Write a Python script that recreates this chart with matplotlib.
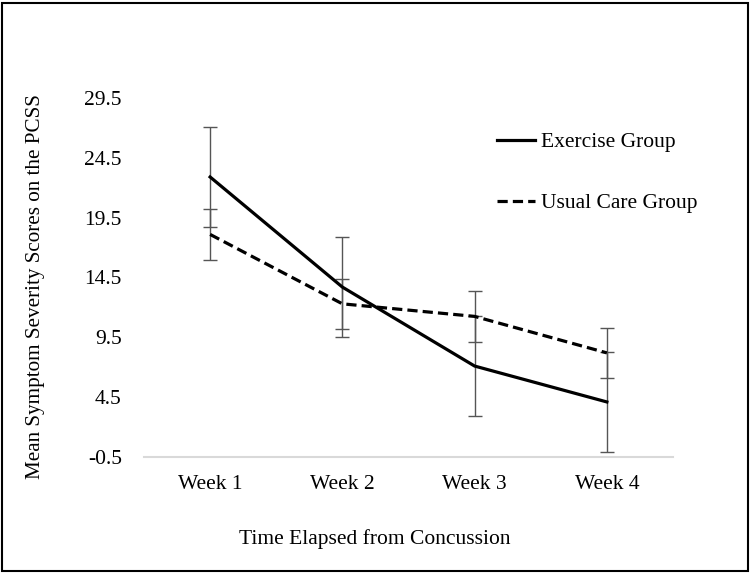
import numpy as np
import matplotlib
matplotlib.use("Agg")
import matplotlib.pyplot as plt
from matplotlib.patches import Rectangle

weeks = ["Week 1", "Week 2", "Week 3", "Week 4"]
exercise = [22.9, 13.7, 7.1, 4.1]
exercise_err = [4.2, 4.15, 4.2, 4.15]
usual = [18.1, 12.3, 11.25, 8.2]
usual_err = [2.1, 2.1, 2.1, 2.1]
yticks = [-0.5, 4.5, 9.5, 14.5, 19.5, 24.5, 29.5]

plt.rcParams['font.family'] = ['Liberation Serif', 'DejaVu Serif']
fs = 15.5

W, H = 751, 574
fig = plt.figure(figsize=(W / 100, H / 100), dpi=100)
ax = fig.add_axes([144 / W, (H - 457) / H, 529 / W, (457 - 98) / H])

x = np.arange(len(weeks))
ecol = "#555555"
ax.errorbar(x, exercise, yerr=exercise_err, fmt="none", ecolor=ecol,
            elinewidth=1, capsize=5, capthick=1, zorder=2)
ax.errorbar(x, usual, yerr=usual_err, fmt="none", ecolor=ecol,
            elinewidth=1, capsize=5, capthick=1, zorder=2)
ax.plot(x, exercise, color="black", lw=2.3, label="Exercise Group", zorder=3)
ax.plot(x, usual, color="black", lw=2.3, linestyle=(0, (3.2, 1.6)),
        label="Usual Care Group", zorder=3)

ax.set_xlim(-0.5, 3.5)
ax.set_ylim(-0.5, 29.5)
ax.set_xticks(x)
ax.set_xticklabels(weeks)
ax.set_yticks(yticks)
ax.set_yticklabels([f"{v:.1f}" for v in yticks])
ax.tick_params(axis="both", length=0, labelsize=fs)
ax.tick_params(axis="y", pad=16)
ax.tick_params(axis="x", pad=13)
for s in ["top", "right", "left"]:
    ax.spines[s].set_visible(False)
ax.spines["bottom"].set_color("#d9d9d9")
ax.spines["bottom"].set_linewidth(1.5)
ax.set_clip_on(False)

fig.text(36 / W, 1 - 287 / H, "Mean Symptom Severity Scores on the PCSS",
         rotation=90, ha="center", va="center", fontsize=15.2)
fig.text(375 / W, 1 - 539 / H, "Time Elapsed from Concussion",
         ha="center", va="center", fontsize=fs)

fig.legend(loc="upper left", bbox_to_anchor=(497 / W, 1 - 132 / H),
           frameon=False, fontsize=fs, labelspacing=1.9,
           handlelength=1.75, handletextpad=0.3,
           borderpad=0, borderaxespad=0)

fig.patches.append(Rectangle((2 / W, 3 / H), (W - 5) / W, (H - 6) / H,
                             transform=fig.transFigure, fill=False,
                             edgecolor="black", lw=1.5))

fig.savefig("out.png", dpi=100)
